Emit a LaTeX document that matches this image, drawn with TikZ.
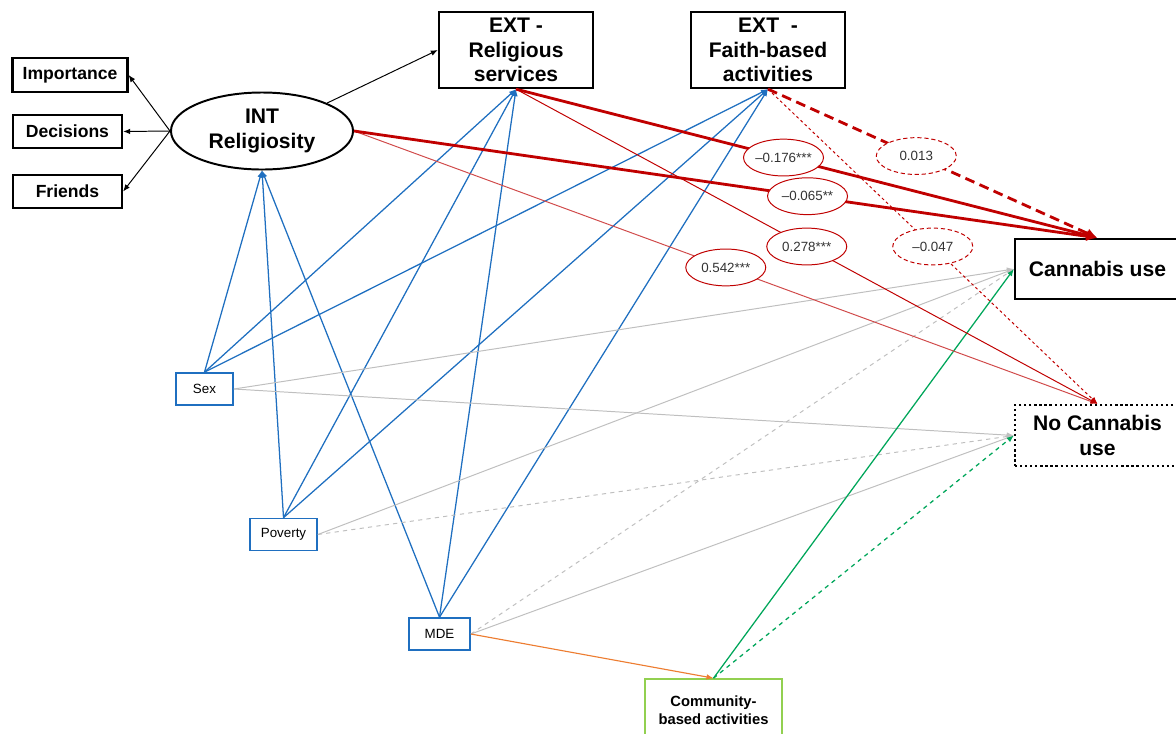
\documentclass[tikz,border=0pt]{standalone}
\usepackage{fontspec}
\setmainfont{Liberation Sans}
\usetikzlibrary{shapes.geometric,arrows.meta}
\definecolor{pathred}{HTML}{C00000}
\definecolor{lightred}{HTML}{D04A4A}
\definecolor{pathblue}{HTML}{1F6FC0}
\definecolor{pathgray}{HTML}{BFBFBF}
\definecolor{pathgreen}{HTML}{00A65A}
\definecolor{boxgreen}{HTML}{92D050}
\definecolor{pathorange}{HTML}{ED7D31}
\tikzset{
    item-box/.style = {draw, line width=1.6pt, rectangle, inner sep=0pt, font=\bfseries\fontsize{12.5}{15}\selectfont},
    big-box/.style = {draw, line width=1.6pt, rectangle, inner sep=0pt, align=center, font=\bfseries\fontsize{15}{17.5}\selectfont},
    latent-ellipse/.style = {draw, line width=1.4pt, ellipse, inner sep=0pt, align=center, minimum width=4.55cm, minimum height=1.925cm, font=\bfseries\fontsize{15}{18}\selectfont},
    cov-box/.style = {draw=pathblue, line width=1.2pt, rectangle, inner sep=0pt, minimum height=0.8cm, font=\fontsize{9.5}{11}\selectfont},
    coef-label/.style = {draw=pathred, fill=white, line width=0.7pt, solid, ellipse, inner sep=0pt, minimum width=2cm, minimum height=0.92cm, text=black!80, font=\fontsize{9.5}{11}\selectfont},
    coef-label-dashed/.style = {coef-label, dash pattern=on 3pt off 2pt},
    small-arrow/.style = {-{Latex[length=5pt,width=4pt]}},
    big-arrow/.style = {-{Latex[length=8pt,width=7pt]}},
    blue-path/.style = {small-arrow, pathblue, line width=0.9pt},
    gray-path/.style = {small-arrow, pathgray, line width=0.7pt},
    thick-red/.style = {big-arrow, pathred, line width=2pt},
    thin-red/.style = {small-arrow, pathred, line width=0.7pt},
}

\begin{document}
\begin{tikzpicture}[x=0.025cm, y=-0.025cm]
\useasboundingbox (0,0) rectangle (1176,733);

\node [item-box, minimum width=2.875cm, minimum height=0.85cm] (importance) at (70,75) {Importance};
\node [item-box, minimum width=2.725cm, minimum height=0.825cm] (decisions) at (67.5,131.5) {Decisions};
\node [item-box, minimum width=2.725cm, minimum height=0.825cm] (friends) at (67.5,191.5) {Friends};
\node [latent-ellipse] (int) at (262,131) {INT\\Religiosity};

\node [big-box, minimum width=3.85cm, minimum height=1.9cm] (ext-rel) at (516,50) {EXT -\\Religious\\services};
\node [big-box, minimum width=3.85cm, minimum height=1.9cm] (ext-faith) at (768,50) {EXT\ \ -\\Faith-based\\activities};
\node [big-box, minimum width=4.125cm, minimum height=1.5cm] (cannabis) at (1097.5,269) {Cannabis use};
\node [big-box, dotted, minimum width=4.125cm, minimum height=1.525cm] (no-cannabis) at (1097.5,435.5) {No Cannabis\\use};

\node [cov-box, minimum width=1.425cm] (sex) at (204.5,389) {Sex};
\node [cov-box, minimum width=1.675cm] (poverty) at (283.5,534.5) {Poverty};
\node [cov-box, minimum width=1.525cm] (mde) at (439.5,634) {MDE};
\node [draw=boxgreen, line width=1.2pt, inner sep=0pt, minimum width=3.425cm, minimum height=1.55cm, align=center, font=\bfseries\fontsize{10.5}{12.8}\selectfont] (community) at (713.5,710) {Community-\\based activities};

\draw [small-arrow, line width=0.7pt] (int.west) -- (importance.east);
\draw [small-arrow, line width=0.7pt] (int.west) -- (decisions.east);
\draw [small-arrow, line width=0.7pt] (int.west) -- (friends.east);
\draw [small-arrow, line width=0.7pt] (int.north east) -- (ext-rel.west);

\draw [blue-path] (sex.north) -- (int.south);
\draw [blue-path] (sex.north) -- (ext-rel.south);
\draw [blue-path] (sex.north) -- (ext-faith.south);
\draw [blue-path] (poverty.north) -- (int.south);
\draw [blue-path] (poverty.north) -- (ext-rel.south);
\draw [blue-path] (poverty.north) -- (ext-faith.south);
\draw [blue-path] (mde.north) -- (int.south);
\draw [blue-path] (mde.north) -- (ext-rel.south);
\draw [blue-path] (mde.north) -- (ext-faith.south);

\draw [gray-path] (sex.east) -- (cannabis.west);
\draw [gray-path] (sex.east) -- (no-cannabis.west);
\draw [gray-path] (poverty.east) -- (cannabis.west);
\draw [gray-path, dashed] (poverty.east) -- (no-cannabis.west);
\draw [gray-path, dashed] (mde.east) -- (cannabis.west);
\draw [gray-path] (mde.east) -- (no-cannabis.west);

\draw [small-arrow, pathorange, line width=0.8pt] (mde.east) -- (community.north);
\draw [small-arrow, pathgreen, line width=0.9pt] (community.north) -- (cannabis.west);
\draw [small-arrow, pathgreen, line width=0.9pt, dashed] (community.north) -- (no-cannabis.west);

\draw [thin-red, lightred] (int.east) -- node [coef-label, pos=0.5] {0.542***} (no-cannabis.north);
\draw [thin-red] (ext-rel.south) -- node [coef-label, pos=0.5] {0.278***} (no-cannabis.north);
\draw [thin-red, dash pattern=on 2pt off 2pt] (ext-faith.south) -- node [coef-label-dashed, pos=0.5] {–0.047} (no-cannabis.north);
\draw [thick-red] (ext-rel.south) -- node [coef-label, pos=0.46] {–0.176***} (cannabis.north);
\draw [thick-red] (int.east) -- node [coef-label, pos=0.61] {–0.065**} (cannabis.north);
\draw [thick-red, dash pattern=on 7pt off 4pt] (ext-faith.south) -- node [coef-label-dashed, pos=0.45] {0.013} (cannabis.north);
\end{tikzpicture}
\end{document}
